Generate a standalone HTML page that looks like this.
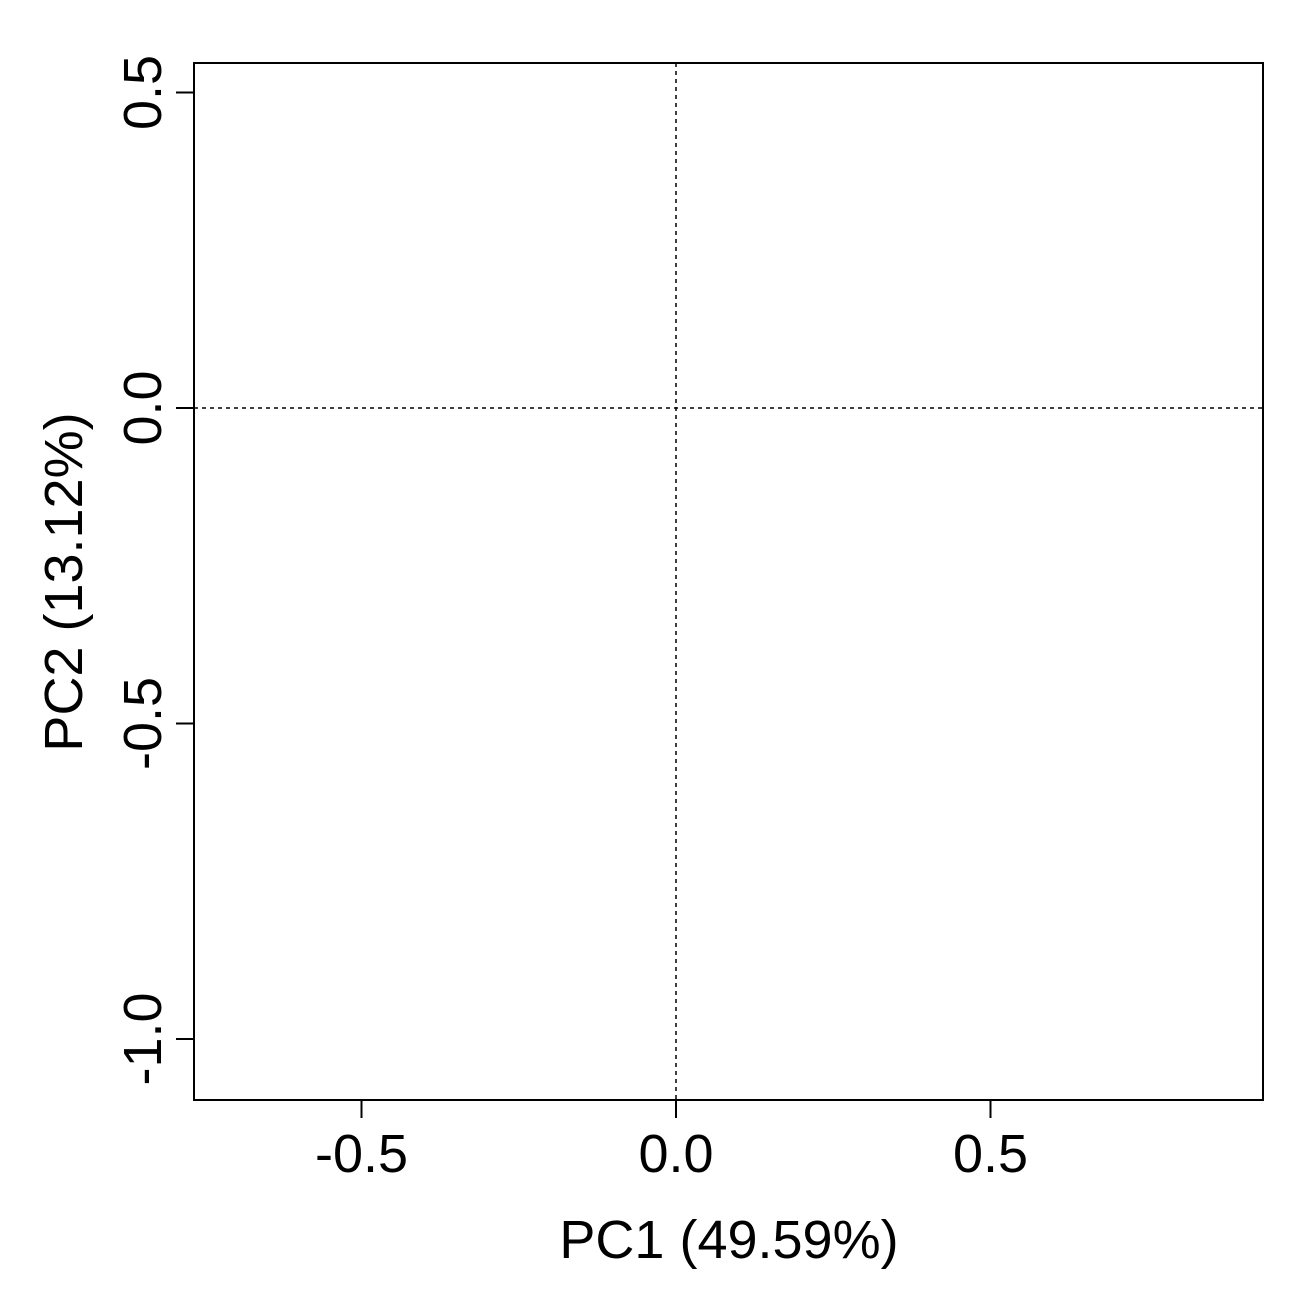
<!DOCTYPE html>
<html><head><meta charset="utf-8"><style>
html,body{margin:0;padding:0;background:#fff;}
svg{display:block;font-family:"Liberation Sans",Arial,sans-serif;}
</style></head><body>
<svg id="chart" width="1296" height="1296">
<rect x="194" y="63" width="1069" height="1037" fill="none" stroke="#000" stroke-width="2"/>
<g id="xaxis"></g>
<g id="yaxis"></g>
<g id="refs"></g>
<text x="729" y="1258" font-size="54" text-anchor="middle">PC1 (49.59%)</text>
<text transform="translate(82,582) rotate(-90)" font-size="54" text-anchor="middle">PC2 (13.12%)</text>
</svg>
<script>
const xTicks = [-0.5, 0.0, 0.5];
const xTickLabels = ["-0.5", "0.0", "0.5"];
const yTicks = [0.5, 0.0, -0.5, -1.0];
const yTickLabels = ["0.5", "0.0", "-0.5", "-1.0"];
const refX = [0];
const refY = [0];

const NS = "http://www.w3.org/2000/svg";
const xs = v => 676 + v * 629;
const ys = v => 408 - v * 631;
function mk(tag, attrs, parent) {
  const e = document.createElementNS(NS, tag);
  for (const k in attrs) e.setAttribute(k, attrs[k]);
  parent.appendChild(e);
  return e;
}
const xa = document.getElementById('xaxis');
const ya = document.getElementById('yaxis');
const refs = document.getElementById('refs');
xTicks.forEach((v, i) => {
  const l = mk('line', {x1: xs(v), x2: xs(v), y1: 1100, y2: 1118, stroke: '#000', 'stroke-width': 2}, xa);
  
  
  const t = mk('text', {x: xs(v), y: 1172, 'font-size': 54, 'text-anchor': 'middle'}, xa);
  t.textContent = xTickLabels[i];
  
  
});
yTicks.forEach((v, i) => {
  const l = mk('line', {x1: 176, x2: 194, y1: ys(v), y2: ys(v), stroke: '#000', 'stroke-width': 2}, ya);
  
  
  const t = mk('text', {transform: `translate(161,${ys(v)}) rotate(-90)`, 'font-size': 54, 'text-anchor': 'middle'}, ya);
  t.textContent = yTickLabels[i];
  
  
});
refX.forEach(v => {
  const l = mk('line', {x1: xs(v), x2: xs(v), y1: 63, y2: 1100, stroke: '#000', 'stroke-width': 1.5, 'stroke-dasharray': '4,4'}, refs);
  
  
});
refY.forEach(v => {
  const l = mk('line', {x1: 194, x2: 1263, y1: ys(v), y2: ys(v), stroke: '#000', 'stroke-width': 1.5, 'stroke-dasharray': '4,4'}, refs);
  
  
});
</script>
</body></html>
